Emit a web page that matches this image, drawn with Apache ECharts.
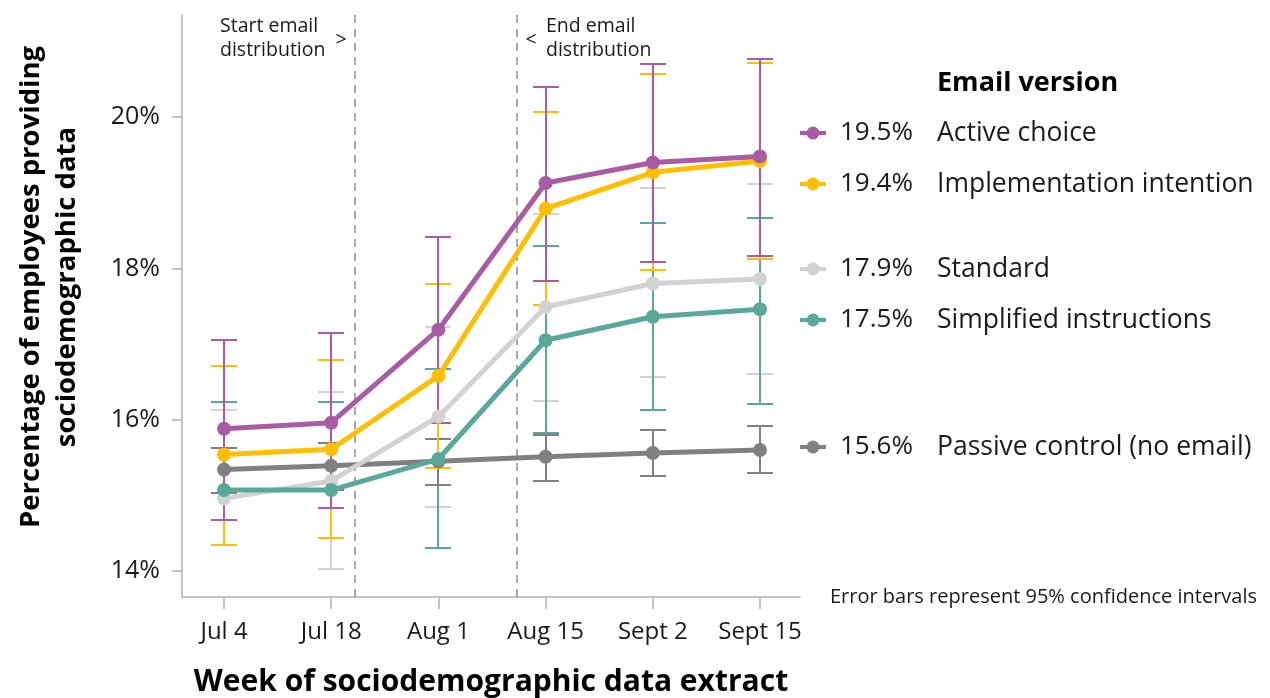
<!DOCTYPE html>
<html>
<head>
<meta charset="utf-8">
<script src="https://cdn.jsdelivr.net/npm/echarts@6/dist/echarts.min.js"></script>
<style>
  html, body { margin: 0; padding: 0; background: #ffffff; }
  #chart { width: 1270px; height: 698px; }
</style>
</head>
<body>
<div id="chart"></div>
<script>
// Weeks of the sociodemographic data extract
const categories = ['Jul 4', 'Jul 18', 'Aug 1', 'Aug 15', 'Sept 2', 'Sept 15'];

// Share of employees providing data (%), with 95% confidence bounds
const activeChoice     = [15.88, 15.96, 17.19, 19.13, 19.40, 19.48];
const activeChoiceLow  = [14.68, 14.83, 15.96, 17.84, 18.09, 18.17];
const activeChoiceHigh = [17.06, 17.15, 18.41, 20.40, 20.70, 20.77];

const implementation     = [15.54, 15.61, 16.58, 18.79, 19.27, 19.42];
const implementationLow  = [14.34, 14.43, 15.36, 17.51, 17.98, 18.12];
const implementationHigh = [16.71, 16.79, 17.79, 20.07, 20.57, 20.71];

const standard     = [14.96, 15.19, 16.04, 17.49, 17.80, 17.86];
const standardLow  = [13.79, 14.02, 14.85, 16.25, 16.56, 16.61];
const standardHigh = [16.13, 16.36, 17.22, 18.72, 19.06, 19.12];

const simplified     = [15.07, 15.07, 15.48, 17.05, 17.36, 17.46];
const simplifiedLow  = [13.90, 13.90, 14.30, 15.82, 16.13, 16.21];
const simplifiedHigh = [16.24, 16.24, 16.67, 18.29, 18.60, 18.67];

const passiveControl     = [15.34, 15.39, 15.45, 15.51, 15.56, 15.60];
const passiveControlLow  = [15.03, 15.07, 15.14, 15.19, 15.25, 15.30];
const passiveControlHigh = [15.63, 15.69, 15.75, 15.80, 15.87, 15.92];

// Y-axis tick values (%)
const yTicks = [14, 16, 18, 20];

// Email distribution window, in week-index units
const distributionStart = 1.22;
const distributionEnd = 2.73;

const FONT = '"Open Sans", Lato, sans-serif';
const TEXT = '#1a1a1a';

const groups = [
  { name: 'Active choice', mid: activeChoice, low: activeChoiceLow, high: activeChoiceHigh, color: '#a95ca3', z: 10, barZ: 5, row: 133 },
  { name: 'Implementation intention', mid: implementation, low: implementationLow, high: implementationHigh, color: '#ffbf00', z: 9, barZ: 4, row: 184 },
  { name: 'Standard', mid: standard, low: standardLow, high: standardHigh, color: '#d2d2d2', z: 7, barZ: 1, row: 269 },
  { name: 'Simplified instructions', mid: simplified, low: simplifiedLow, high: simplifiedHigh, color: '#58a999', z: 8, barZ: 2, row: 320 },
  { name: 'Passive control (no email)', mid: passiveControl, low: passiveControlLow, high: passiveControlHigh, color: '#808080', z: 6, barZ: 3, row: 447 }
];

const chart = echarts.init(document.getElementById('chart'), null, { renderer: 'canvas' });

const axisFloor = yTicks[0];

function errorBarRenderer(color) {
  return function (params, api) {
    const x = api.value(0);
    const lo = api.value(1);
    const hi = api.value(2);
    const top = api.coord([x, hi]);
    const cx = Math.round(top[0]);
    const hw = 13;
    const style = { stroke: color, lineWidth: 2 };
    const children = [
      { type: 'line', shape: { x1: cx - hw, y1: Math.round(top[1]), x2: cx + hw, y2: Math.round(top[1]) }, style: style }
    ];
    // lower ends falling below the first tick are not drawn
    if (lo >= axisFloor) {
      const bot = api.coord([x, lo]);
      children.push({ type: 'line', shape: { x1: cx, y1: Math.round(top[1]), x2: cx, y2: Math.round(bot[1]) }, style: style });
      children.push({ type: 'line', shape: { x1: cx - hw, y1: Math.round(bot[1]), x2: cx + hw, y2: Math.round(bot[1]) }, style: style });
    }
    return { type: 'group', children: children };
  };
}

const series = [];
groups.forEach(function (g) {
  series.push({
    type: 'custom',
    name: g.name + ' CI',
    z: g.barZ,
    silent: true,
    renderItem: errorBarRenderer(g.color),
    data: g.mid.map(function (_, i) { return [i, g.low[i], g.high[i]]; }),
    clip: false
  });
  series.push({
    type: 'line',
    name: g.name,
    z: g.z,
    symbol: 'circle',
    symbolSize: 14,
    lineStyle: { width: 5, color: g.color },
    itemStyle: { color: g.color },
    data: g.mid.map(function (v, i) { return [i, v]; }),
    animation: false
  });
});

// dashed markers for the email distribution window
series.push({
  type: 'line',
  data: [],
  z: 0,
  markLine: {
    silent: true,
    symbol: 'none',
    label: { show: false },
    lineStyle: { color: '#8a8a8a', type: [8, 6], width: 1.5 },
    data: [{ xAxis: distributionStart }, { xAxis: distributionEnd }],
    animation: false
  }
});

// Legend and annotations
const graphics = [];
graphics.push({
  type: 'text', x: 937, y: 83,
  style: { text: 'Email version', font: 'bold 27px ' + FONT, fill: '#000', verticalAlign: 'middle' }
});
groups.forEach(function (g) {
  const last = g.mid[g.mid.length - 1];
  graphics.push({
    type: 'group',
    children: [
      { type: 'line', shape: { x1: 800, y1: g.row, x2: 826, y2: g.row }, style: { stroke: g.color, lineWidth: 4 } },
      { type: 'circle', shape: { cx: 813, cy: g.row, r: 6.5 }, style: { fill: g.color } },
      { type: 'text', x: 840, y: g.row, style: { text: last.toFixed(1) + '%', font: '26px ' + FONT, fill: TEXT, verticalAlign: 'middle' } },
      { type: 'text', x: 937, y: g.row, style: { text: g.name, font: '26.5px ' + FONT, fill: TEXT, verticalAlign: 'middle' } }
    ]
  });
});
graphics.push({
  type: 'text', x: 1257, y: 597,
  style: { text: 'Error bars represent 95% confidence intervals', font: '20px ' + FONT, fill: TEXT, align: 'right', verticalAlign: 'middle' }
});
graphics.push({
  type: 'text', x: 220, y: 38,
  style: { text: 'Start email\ndistribution', font: '19.5px ' + FONT, fill: TEXT, lineHeight: 24, verticalAlign: 'middle' }
});
graphics.push({
  type: 'text', x: 341, y: 40,
  style: { text: '>', font: '19.5px ' + FONT, fill: TEXT, align: 'center', verticalAlign: 'middle' }
});
graphics.push({
  type: 'text', x: 531, y: 40,
  style: { text: '<', font: '19.5px ' + FONT, fill: TEXT, align: 'center', verticalAlign: 'middle' }
});
graphics.push({
  type: 'text', x: 546, y: 38,
  style: { text: 'End email\ndistribution', font: '19.5px ' + FONT, fill: TEXT, lineHeight: 24, verticalAlign: 'middle' }
});
graphics.push({
  type: 'text', x: 49, y: 287, rotation: Math.PI / 2,
  style: { text: 'Percentage of employees providing\nsociodemographic data', font: 'bold 27.5px ' + FONT, fill: '#000', align: 'center', verticalAlign: 'middle', lineHeight: 36 }
});
graphics.push({
  type: 'text', x: 491, y: 682,
  style: { text: 'Week of sociodemographic data extract', font: 'bold 30px ' + FONT, fill: '#000', align: 'center', verticalAlign: 'middle' }
});

const option = {
  backgroundColor: '#ffffff',
  animation: false,
  grid: { left: 182, top: 15, right: 470, bottom: 101, containLabel: false },
  xAxis: {
    type: 'value',
    min: -0.392,
    max: 5.373,
    splitLine: { show: false },
    axisLine: { show: true, onZero: false, lineStyle: { color: '#c4c4c4', width: 2 } },
    axisTick: { show: true, length: 12, lineStyle: { color: '#c4c4c4', width: 2 }, customValues: categories.map(function (_, i) { return i; }) },
    axisLabel: {
      customValues: categories.map(function (_, i) { return i; }),
      formatter: function (v) { return categories[Math.round(v)]; },
      margin: 23, fontSize: 24, fontFamily: FONT, color: TEXT
    }
  },
  yAxis: {
    type: 'value',
    min: 13.656,
    max: 21.35,
    splitLine: { show: false },
    axisLine: { show: true, onZero: false, lineStyle: { color: '#c4c4c4', width: 2 } },
    axisTick: { show: true, length: 10, lineStyle: { color: '#c4c4c4', width: 2 }, customValues: yTicks },
    axisLabel: {
      customValues: yTicks,
      formatter: function (v) { return v + '%'; },
      margin: 22, fontSize: 25, fontFamily: FONT, color: TEXT
    }
  },
  series: series,
  graphic: graphics
};

chart.setOption(option);
</script>
</body>
</html>
